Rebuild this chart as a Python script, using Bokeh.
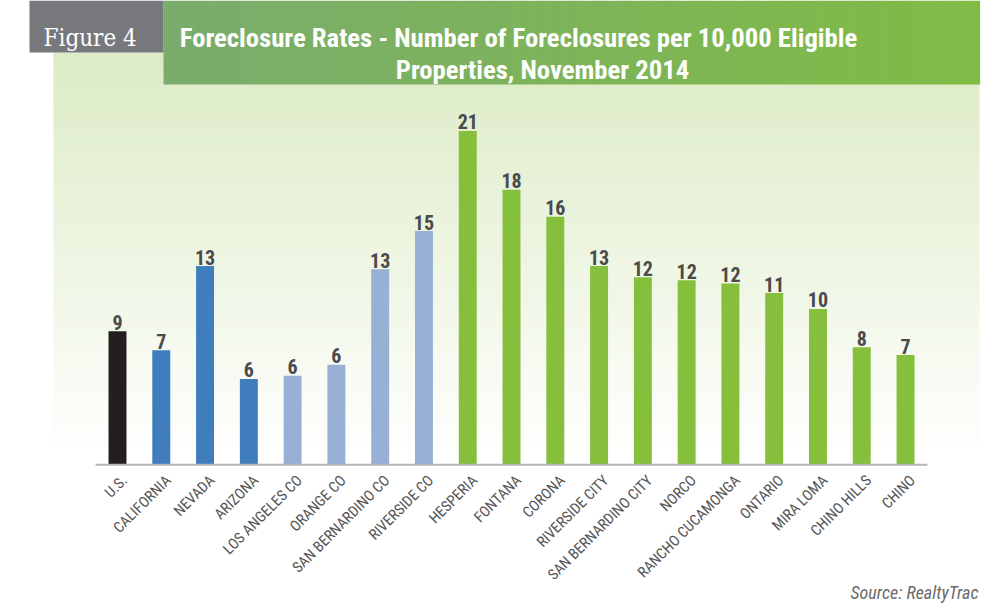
import numpy as np
from bokeh.plotting import figure
from bokeh.models import Range1d, ColumnDataSource
from bokeh.embed import file_html
from bokeh.resources import INLINE
from bokeh.core.properties import value

# ---------------- data ----------------
categories = ["U.S.", "CALIFORNIA", "NEVADA", "ARIZONA", "LOS ANGELES CO", "ORANGE CO",
              "SAN BERNARDINO CO", "RIVERSIDE CO", "HESPERIA", "FONTANA", "CORONA",
              "RIVERSIDE CITY", "SAN BERNARDINO CITY", "NORCO", "RANCHO CUCAMONGA",
              "ONTARIO", "MIRA LOMA", "CHINO HILLS", "CHINO"]
rates = [8.4, 7.2, 12.5, 5.4, 5.6, 6.3, 12.3, 14.7, 21.0, 17.3, 15.6,
         12.5, 11.8, 11.6, 11.4, 10.8, 9.8, 7.4, 6.9]
rate_labels = ["9", "7", "13", "6", "6", "6", "13", "15", "21", "18", "16",
               "13", "12", "12", "12", "11", "10", "8", "7"]
levels = ["nation", "state", "state", "state", "county", "county", "county", "county",
          "city", "city", "city", "city", "city", "city", "city", "city", "city", "city", "city"]
title_lines = ["Foreclosure Rates - Number of Foreclosures per 10,000 Eligible",
               "Properties, November 2014"]
figure_tag = "Figure 4"
source_note = "Source: RealtyTrac"

level_colors = {"nation": "#231f20", "state": "#3f7dbd", "county": "#98b0d5", "city": "#86bf3c"}

NARROW = "'Roboto Condensed', 'DejaVu Sans Condensed', 'Liberation Sans Narrow', 'Open Sans Condensed', Roboto, sans-serif"
SERIF = "'DejaVu Serif Condensed', 'Liberation Serif', serif"

# ---------------- layout ----------------
W, H = 1003, 604
PX_PER_CAT = 43.78
CAT0_PX = 117.0          # centre of first bar (canvas px)
BASE_PX = 464.3          # baseline (canvas px from top)
PX_PER_UNIT = 15.9

x_range = Range1d(-CAT0_PX / PX_PER_CAT, (W - CAT0_PX) / PX_PER_CAT)
y_range = Range1d(-(H - BASE_PX) / PX_PER_UNIT, BASE_PX / PX_PER_UNIT)

p = figure(width=W, height=H, x_range=x_range, y_range=y_range,
           output_backend="svg", toolbar_location=None, min_border=0,
           x_axis_type=None, y_axis_type=None)
p.outline_line_color = None
p.background_fill_color = "white"
p.border_fill_color = "white"
p.extra_x_ranges = {"px": Range1d(0, W)}
p.extra_y_ranges = {"px": Range1d(H, 0)}

def lerp(c0, c1, t):
    return "#%02x%02x%02x" % tuple(int(round(a + (b - a) * t)) for a, b in zip(c0, c1))

# light green background panel, fading to white downward
n = 90
edges = np.linspace(52.0, 460.0, n + 1)
p.quad(left=[53] * n, right=[979] * n, top=list(edges[:-1]), bottom=list(edges[1:] + 0.6),
       fill_color=[lerp((220, 235, 197), (255, 255, 255), i / (n - 1)) for i in range(n)],
       line_color=None, x_range_name="px", y_range_name="px")

# green title banner, horizontal gradient
m = 70
xe = np.linspace(163, 979, m + 1)
p.quad(left=list(xe[:-1]), right=list(xe[1:] + 0.6), top=[0] * m, bottom=[84] * m,
       fill_color=[lerp((122, 172, 108), (128, 187, 70), i / (m - 1)) for i in range(m)],
       line_color=None, x_range_name="px", y_range_name="px")

# grey figure tag box
p.quad(left=[29], right=[163], top=[0], bottom=[52], fill_color="#77787c",
       line_color=None, x_range_name="px", y_range_name="px")

p.text(x=[43], y=[37], text=[figure_tag], text_font=value(SERIF),
       text_font_size="24px", text_color="white", text_baseline="alphabetic",
       text_align="left", x_range_name="px", y_range_name="px")

p.text(x=[518, 542], y=[37, 69], text=title_lines, text_font=value(NARROW),
       text_font_style="bold", text_font_size="26.7px", text_color="white",
       text_baseline="alphabetic", text_align="center", x_range_name="px", y_range_name="px")

# ---------------- bars ----------------
idx = list(range(len(categories)))
src = ColumnDataSource(dict(x=idx, rate=rates, lab=rate_labels, cat=categories,
                            color=[level_colors[l] for l in levels]))

p.vbar(x="x", top="rate", bottom=0, width=0.41, fill_color="color", line_color=None, source=src)

# baseline
p.segment(x0=[-0.5], y0=[0], x1=[len(categories) - 0.5], y1=[0], line_color="#b4b4b4", line_width=2)

# value labels
p.text(x="x", y="rate", text="lab", source=src, y_offset=-9,
       text_font=value(NARROW), text_font_style="bold",
       text_font_size="20px", text_color="#4a4a4a", text_align="center",
       text_baseline="alphabetic")

# category labels, rotated
p.text(x="x", y=0, text="cat", source=src, angle=np.pi / 4, x_offset=7, y_offset=13,
       text_font=value(NARROW), text_font_size="15px",
       text_color="#555555", text_align="right", text_baseline="middle")

# source note
p.text(x=[978], y=[592], text=[source_note], text_font=value(NARROW),
       text_font_style="italic", text_font_size="18px", text_color="#6b6b6b",
       text_align="right", text_baseline="alphabetic", x_range_name="px", y_range_name="px")

open("out.html", "w").write(file_html(p, INLINE))
